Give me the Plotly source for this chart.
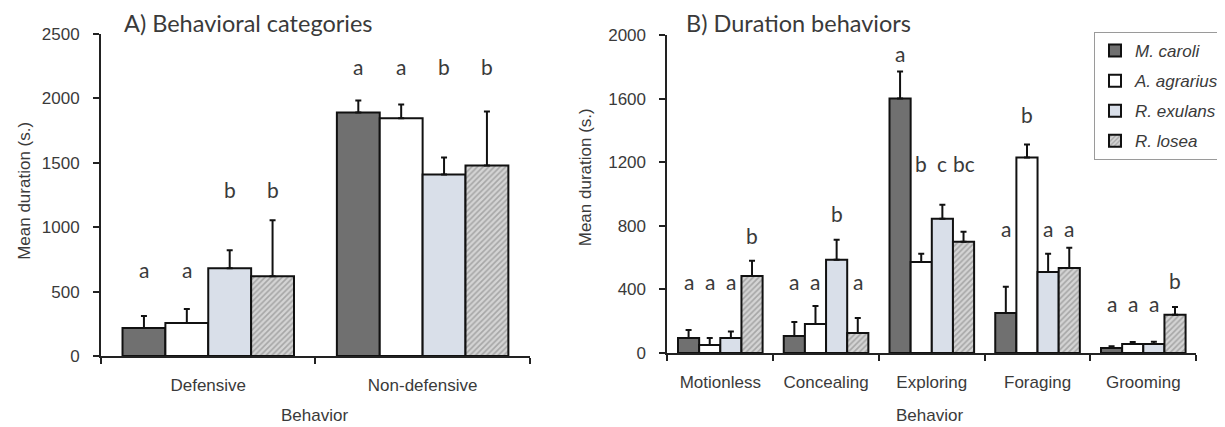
import plotly.graph_objects as go

# ---------------- data ----------------
series = ["M. caroli", "A. agrarius", "R. exulans", "R. losea"]

catA = ["Defensive", "Non-defensive"]
meanA = {
    "M. caroli":   [217, 1891],
    "A. agrarius": [256, 1845],
    "R. exulans":  [682, 1410],
    "R. losea":    [620, 1480],
}
errA = {
    "M. caroli":   [93, 93],
    "A. agrarius": [108, 108],
    "R. exulans":  [140, 132],
    "R. losea":    [434, 419],
}
lettersA = [["a", "a", "b", "b"], ["a", "a", "b", "b"]]
letterYA = [[651, 651, 1271, 1271], [2224, 2224, 2224, 2224]]

catB = ["Motionless", "Concealing", "Exploring", "Foraging", "Grooming"]
meanB = {
    "M. caroli":   [95, 107, 1600, 252, 32],
    "A. agrarius": [50, 183, 573, 1229, 57],
    "R. exulans":  [95, 586, 844, 510, 57],
    "R. losea":    [485, 126, 700, 535, 240],
}
errB = {
    "M. caroli":   [50, 88, 170, 164, 10],
    "A. agrarius": [45, 113, 51, 82, 12],
    "R. exulans":  [40, 126, 88, 114, 13],
    "R. losea":    [95, 94, 62, 127, 50],
}
lettersB = [["a", "a", "a", "b"], ["a", "a", "b", "a"], ["a", "b", "c", "bc"],
            ["a", "b", "a", "a"], ["a", "a", "a", "b"]]
letterYB = [[428, 428, 428, 718], [428, 428, 857, 428], [1865, 1172, 1172, 1172],
            [762, 1480, 762, 762], [290, 290, 290, 440]]

yticksA = [0, 500, 1000, 1500, 2000, 2500]
yticksB = [0, 400, 800, 1200, 1600, 2000]

# ---------------- styles ----------------
fills = {"M. caroli": "#707070", "A. agrarius": "#ffffff",
         "R. exulans": "#d9dfe9", "R. losea": "#d4d4d4"}
OFFX, OFFY = 6, 8            # page body margin compensation
W, H = 1225 - 8, 427 - 8


def px(x):
    return (x - OFFX) / W


def py(y):
    return 1 - (y - OFFY) / H


offsets = [-0.3, -0.1, 0.1, 0.3]
txt_col = "#3a3a3a"
SANS = "Liberation Sans"

fig = go.Figure()
for s in series:
    pat = dict(shape="/", size=4, solidity=0.4, fgcolor="#777777", fillmode="overlay") if s == "R. losea" else None
    for (cats, means, errs, xa, ya, show) in [(catA, meanA, errA, "x", "y", True),
                                              (catB, meanB, errB, "x2", "y2", False)]:
        marker = dict(color=fills[s], line=dict(color="#111111", width=2))
        if pat:
            marker["pattern"] = pat
        fig.add_trace(go.Bar(
            x=cats, y=means[s], name="<i>%s</i>" % s, legendgroup=s, showlegend=show,
            marker=marker, xaxis=xa, yaxis=ya,
            error_y=dict(type="data", array=errs[s], arrayminus=[0] * len(cats),
                         symmetric=False, color="#111111", thickness=2, width=3),
        ))

ann = []
for ci, row in enumerate(lettersA):
    for si, t in enumerate(row):
        ann.append(dict(x=ci + offsets[si], y=letterYA[ci][si], xref="x", yref="y", text=t,
                        xanchor="center", yanchor="middle",
                        showarrow=False, yshift=3, font=dict(family="Lato", size=21, color=txt_col)))
for ci, row in enumerate(lettersB):
    for si, t in enumerate(row):
        ann.append(dict(x=ci + offsets[si], y=letterYB[ci][si], xref="x2", yref="y2", text=t,
                        xanchor="center", yanchor="middle",
                        showarrow=False, yshift=3, font=dict(family="Lato", size=21, color=txt_col)))

# titles
ann.append(dict(x=px(122), y=1, xref="paper", yref="paper", text="A) Behavioral categories",
                xanchor="left", yanchor="top", showarrow=False, borderpad=0,
                font=dict(family="Lato", size=23.5, color=txt_col)))
ann.append(dict(x=px(690), y=1, xref="paper", yref="paper", text="B) Duration behaviors",
                xanchor="left", yanchor="top", showarrow=False, borderpad=0,
                font=dict(family="Lato", size=23.5, color=txt_col)))
ann.append(dict(x=px(22), y=py(191), xref="paper", yref="paper", text="Mean duration (s.)",
                xanchor="center", yanchor="middle",
                textangle=-90, showarrow=False, font=dict(family=SANS, size=17, color=txt_col)))
ann.append(dict(x=px(589), y=py(177), xref="paper", yref="paper", text="Mean duration (s.)",
                xanchor="center", yanchor="middle",
                textangle=-90, showarrow=False, font=dict(family=SANS, size=17, color=txt_col)))
ann.append(dict(x=px(316), y=py(415), xref="paper", yref="paper", text="Behavior",
                xanchor="center", yanchor="middle",
                showarrow=False, font=dict(family=SANS, size=17, color=txt_col)))
ann.append(dict(x=px(937), y=py(415), xref="paper", yref="paper", text="Behavior",
                xanchor="center", yanchor="middle",
                showarrow=False, font=dict(family=SANS, size=17, color=txt_col)))

axis_common = dict(showgrid=False, zeroline=False, showline=True, linecolor="#222222", linewidth=2,
                   ticks="outside", tickcolor="#222222", tickwidth=2, ticklen=6, automargin=False,
                   tickfont=dict(family=SANS, size=17, color=txt_col))

fig.update_layout(
    width=W, height=H, margin=dict(l=0, r=0, t=0, b=0),
    paper_bgcolor="white", plot_bgcolor="white",
    barmode="group", bargap=0.2, bargroupgap=0,
    annotations=ann,
    xaxis=dict(domain=[px(100), px(533)], anchor="y", type="category", tickson="boundaries",
               ticklabelstandoff=13, **axis_common),
    yaxis=dict(domain=[py(356), py(34)], anchor="x", range=[0, 2500], tickvals=yticksA,
               ticklabelstandoff=10, **axis_common),
    xaxis2=dict(domain=[px(672), px(1206)], anchor="y2", type="category", tickson="boundaries",
                ticklabelstandoff=13, **axis_common),
    yaxis2=dict(domain=[py(353), py(35)], anchor="x2", range=[0, 2000], tickvals=yticksB,
                ticklabelstandoff=10, **axis_common),
    legend=dict(x=px(1103), y=py(32), xanchor="left", yanchor="top",
                bordercolor="#9a9a9a", borderwidth=1, bgcolor="white",
                font=dict(family=SANS, size=17, color=txt_col),
                tracegroupgap=5, itemwidth=30),
)

fig.write_html("out.html")
